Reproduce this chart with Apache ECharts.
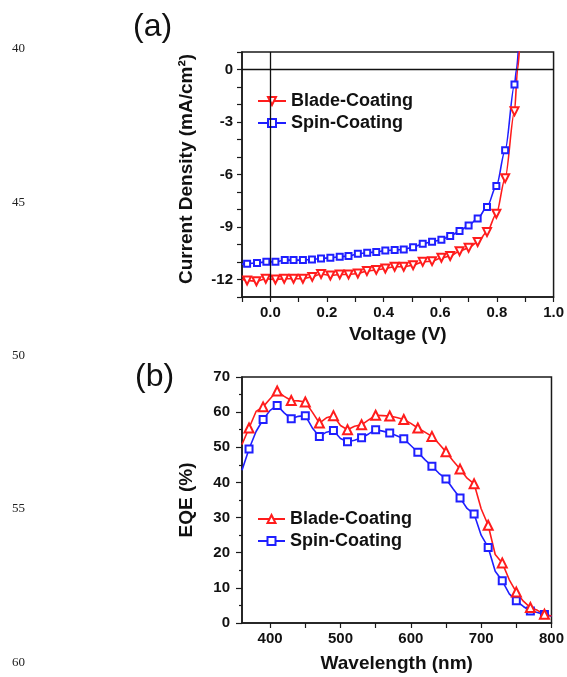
<!DOCTYPE html>
<html>
<head>
<meta charset="utf-8">
<script src="https://cdn.jsdelivr.net/npm/echarts@6/dist/echarts.min.js"></script>
<style>html,body{margin:0;padding:0;background:#fff}#c{width:567px;height:677px}</style>
</head>
<body>
<div id="c"></div>
<script>
// ---------- Panel (a): J-V curves ----------
const bladeV = [-0.100, -0.082, -0.049, -0.016, 0.018, 0.049, 0.082, 0.115, 0.148, 0.179, 0.212, 0.245, 0.276, 0.309, 0.341, 0.374, 0.406, 0.439, 0.471, 0.504, 0.538, 0.571, 0.604, 0.635, 0.668, 0.700, 0.732, 0.765, 0.798, 0.829, 0.862, 0.873, 0.880];
const bladeJ = [-11.98, -12.06, -12.10, -11.96, -12.00, -11.96, -11.96, -11.96, -11.85, -11.68, -11.77, -11.71, -11.71, -11.66, -11.52, -11.45, -11.37, -11.27, -11.27, -11.18, -10.99, -10.95, -10.76, -10.66, -10.38, -10.19, -9.86, -9.29, -8.24, -6.21, -2.39, 0.00, 1.30];
const spinV = [-0.100, -0.082, -0.047, -0.014, 0.018, 0.051, 0.082, 0.115, 0.147, 0.179, 0.212, 0.245, 0.276, 0.309, 0.342, 0.374, 0.406, 0.439, 0.471, 0.504, 0.538, 0.571, 0.604, 0.635, 0.668, 0.700, 0.732, 0.765, 0.798, 0.829, 0.862, 0.869, 0.876];
const spinJ = [-11.12, -11.10, -11.05, -10.99, -10.99, -10.89, -10.89, -10.89, -10.85, -10.80, -10.76, -10.70, -10.66, -10.53, -10.47, -10.43, -10.34, -10.32, -10.28, -10.15, -9.96, -9.84, -9.73, -9.52, -9.23, -8.91, -8.52, -7.85, -6.65, -4.61, -0.86, 0.00, 1.20];
const jvYLabels = [-12, -9, -6, -3, 0];
const jvXLabels = [0.0, 0.2, 0.4, 0.6, 0.8, 1.0];

// ---------- Panel (b): EQE spectra ----------
const wavelength = [360, 370, 380, 390, 400, 410, 420, 430, 440, 450, 460, 470, 480, 490, 500, 510, 520, 530, 540, 550, 560, 570, 580, 590, 600, 610, 620, 630, 640, 650, 660, 670, 680, 690, 700, 710, 720, 730, 740, 750, 760, 770, 780, 790, 800];
const bladeEQE = [50.8, 55.5, 60.2, 61.5, 63.8, 66.0, 64.5, 63.3, 63.2, 62.9, 60.0, 56.9, 58.4, 59.0, 56.2, 55.0, 56.0, 56.4, 57.8, 59.1, 59.0, 58.9, 58.5, 57.9, 56.8, 55.5, 54.3, 53.1, 51.0, 48.7, 46.2, 43.8, 41.2, 39.6, 32.5, 27.8, 19.5, 17.1, 12.3, 8.8, 6.2, 4.4, 3.6, 2.5, 2.0];
const spinEQE = [43.5, 49.5, 54.5, 57.9, 60.5, 61.9, 59.8, 58.1, 58.8, 59.0, 55.5, 53.1, 54.3, 54.8, 52.5, 51.6, 52.0, 52.7, 53.8, 55.0, 54.6, 54.1, 53.3, 52.4, 50.5, 48.6, 46.5, 44.6, 42.6, 41.0, 38.2, 35.6, 32.6, 31.0, 25.0, 21.5, 14.7, 12.0, 8.3, 6.3, 4.7, 3.4, 3.0, 2.4, 1.9];
const eqeXLabels = [400, 500, 600, 700, 800];
const eqeXTicks = [400, 450, 500, 550, 600, 650, 700, 750, 800];

const RED = '#ff1c1c';
const BLUE = '#1f1fff';
const AX = '#1a1a1a';
const FONT = '"Liberation Sans", Arial, sans-serif';

// JV: markers on all but the first point and the last two (curve continuation)
function jvPoints(xs, ys) {
  return xs.map((x, i) => (i === 0 || i > xs.length - 3)
    ? { value: [x, ys[i]], symbol: 'none' }
    : [x, ys[i]]);
}
// EQE: markers every other point (370, 390, ... 790)
function eqePoints(xs, ys) {
  return xs.map((x, i) => (i % 2 === 1) ? [x, ys[i]] : { value: [x, ys[i]], symbol: 'none' });
}

const tickLabel = { color: '#111', fontWeight: 'bold', fontSize: 15, fontFamily: FONT };
const nameStyle = { color: '#111', fontWeight: 'bold', fontSize: 19, fontFamily: FONT };

const chart = echarts.init(document.getElementById('c'), null, { renderer: 'canvas' });
chart.setOption({
  animation: false,
  backgroundColor: '#fff',
  textStyle: { fontFamily: FONT },
  grid: [
    { left: 242, top: 52, width: 312, height: 245, show: true, borderColor: AX, borderWidth: 1.5 },
    { left: 242, top: 377, width: 312, height: 246, show: true, borderColor: AX, borderWidth: 1.5 }
  ],
  xAxis: [
    {
      gridIndex: 0, type: 'value', min: -0.1, max: 1.0, interval: 0.1,
      splitLine: { show: false },
      axisLine: { onZero: false, lineStyle: { color: AX, width: 1.5 } },
      axisTick: { length: 5, lineStyle: { color: AX, width: 1.2 } },
      axisLabel: Object.assign({ margin: 8, formatter: v => {
        const hit = jvXLabels.find(t => Math.abs(t - v) < 1e-6);
        return hit === undefined ? '' : hit.toFixed(1);
      } }, tickLabel),
      name: 'Voltage (V)', nameLocation: 'middle', nameGap: 28, nameTextStyle: nameStyle
    },
    {
      gridIndex: 1, type: 'value', min: 360, max: 800,
      splitLine: { show: false },
      axisLine: { onZero: false, lineStyle: { color: AX, width: 1.5 } },
      axisTick: { length: 5, customValues: eqeXTicks, lineStyle: { color: AX, width: 1.2 } },
      axisLabel: Object.assign({ margin: 8, customValues: eqeXLabels }, tickLabel),
      name: 'Wavelength (nm)', nameLocation: 'middle', nameGap: 31, nameTextStyle: nameStyle
    }
  ],
  yAxis: [
    {
      gridIndex: 0, type: 'value', min: -13, max: 1, interval: 1,
      splitLine: { show: false },
      axisLine: { onZero: false, lineStyle: { color: AX, width: 1.5 } },
      axisTick: { length: 5, lineStyle: { color: AX, width: 1.2 } },
      axisLabel: Object.assign({ margin: 9, formatter: v => jvYLabels.indexOf(Math.round(v)) >= 0 ? String(Math.round(v)) : '' }, tickLabel),
      name: 'Current Density (mA/cm\u00B2)', nameLocation: 'middle', nameGap: 46,
      nameTextStyle: Object.assign({ padding: [0, 0, 0, 11] }, nameStyle)
    },
    {
      gridIndex: 1, type: 'value', min: 0, max: 70, interval: 10,
      splitLine: { show: false },
      axisLine: { onZero: false, lineStyle: { color: AX, width: 1.5 } },
      axisTick: { length: 6, lineStyle: { color: AX, width: 1.2 } },
      minorTick: { show: true, splitNumber: 2, length: 3, lineStyle: { color: AX, width: 1.2 } },
      axisLabel: Object.assign({ margin: 12 }, tickLabel),
      name: 'EQE (%)', nameLocation: 'middle', nameGap: 46, nameTextStyle: nameStyle
    }
  ],
  legend: [
    {
      data: ['a:Blade-Coating', 'a:Spin-Coating'], orient: 'vertical',
      left: 252, top: 85, padding: [6, 6, 1, 5], backgroundColor: '#fff',
      itemWidth: 28, itemHeight: 10, itemGap: 2, selectedMode: false,
      formatter: n => n.slice(2),
      textStyle: { fontSize: 18, fontWeight: 'bold', color: '#111', lineHeight: 20, fontFamily: FONT }
    },
    {
      data: ['b:Blade-Coating', 'b:Spin-Coating'], orient: 'vertical',
      left: 257, top: 509, padding: 0,
      itemWidth: 27, itemHeight: 10, itemGap: 2, selectedMode: false,
      formatter: n => n.slice(2),
      textStyle: { fontSize: 18, fontWeight: 'bold', color: '#111', lineHeight: 20, fontFamily: FONT }
    }
  ],
  series: [
    {
      name: 'a:Spin-Coating', type: 'line', xAxisIndex: 0, yAxisIndex: 0,
      data: jvPoints(spinV, spinJ), smooth: 0.3, smoothMonotone: 'x', showAllSymbol: true,
      symbol: 'emptyRect', symbolSize: 6, color: BLUE,
      lineStyle: { color: BLUE, width: 1.6 }, itemStyle: { color: BLUE, borderWidth: 1.2 },
      markLine: {
        silent: true, symbol: ['none', 'none'], label: { show: false }, animation: false,
        lineStyle: { color: '#111', width: 1.3, type: 'solid' },
        data: [{ xAxis: 0 }, { yAxis: 0 }]
      },
      z: 3
    },
    {
      name: 'a:Blade-Coating', type: 'line', xAxisIndex: 0, yAxisIndex: 0,
      data: jvPoints(bladeV, bladeJ), smooth: 0.3, smoothMonotone: 'x', showAllSymbol: true,
      symbol: 'emptyTriangle', symbolRotate: 180, symbolSize: 8, color: RED,
      lineStyle: { color: RED, width: 1.6 }, itemStyle: { color: RED, borderWidth: 1.2 },
      z: 3
    },
    {
      name: 'b:Spin-Coating', type: 'line', xAxisIndex: 1, yAxisIndex: 1,
      data: eqePoints(wavelength, spinEQE), showAllSymbol: true,
      symbol: 'emptyRect', symbolSize: 7, color: BLUE,
      lineStyle: { color: BLUE, width: 1.6 }, itemStyle: { color: BLUE, borderWidth: 1.2 }
    },
    {
      name: 'b:Blade-Coating', type: 'line', xAxisIndex: 1, yAxisIndex: 1,
      data: eqePoints(wavelength, bladeEQE), showAllSymbol: true,
      symbol: 'emptyTriangle', symbolSize: 9, color: RED,
      lineStyle: { color: RED, width: 1.6 }, itemStyle: { color: RED, borderWidth: 1.3 }
    }
  ],
  graphic: [
    { type: 'text', left: 133, top: 11, style: { text: '(a)', font: '32px "Liberation Sans", Arial, sans-serif', fill: '#111' } },
    { type: 'text', left: 135, top: 361, style: { text: '(b)', font: '32px "Liberation Sans", Arial, sans-serif', fill: '#111' } },
    { type: 'text', left: 12, top: 42, style: { text: '40', font: '13px "Liberation Serif", "Times New Roman", serif', fill: '#222' } },
    { type: 'text', left: 12, top: 196, style: { text: '45', font: '13px "Liberation Serif", "Times New Roman", serif', fill: '#222' } },
    { type: 'text', left: 12, top: 349, style: { text: '50', font: '13px "Liberation Serif", "Times New Roman", serif', fill: '#222' } },
    { type: 'text', left: 12, top: 502, style: { text: '55', font: '13px "Liberation Serif", "Times New Roman", serif', fill: '#222' } },
    { type: 'text', left: 12, top: 656, style: { text: '60', font: '13px "Liberation Serif", "Times New Roman", serif', fill: '#222' } }
  ]
});
</script>
</body>
</html>
